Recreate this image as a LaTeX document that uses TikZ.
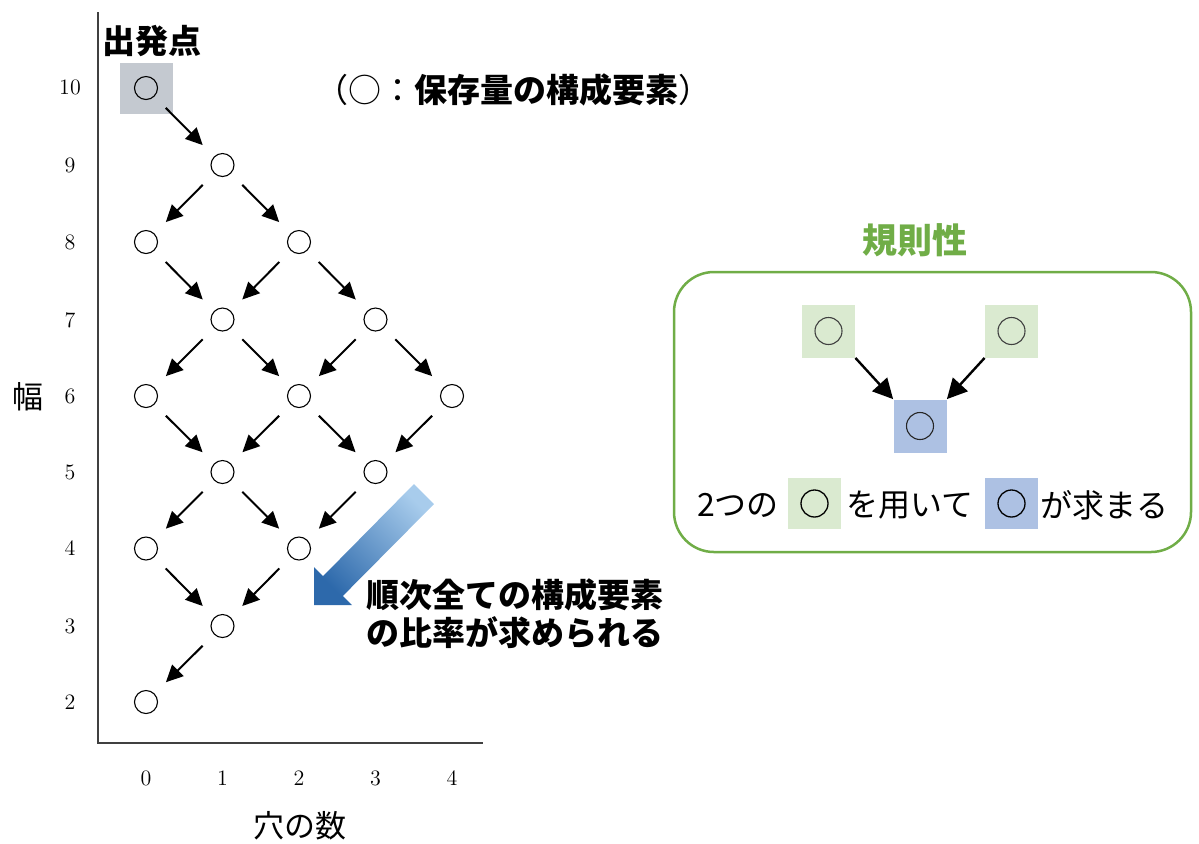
\documentclass[tikz,border=0pt]{standalone}
\usepackage{fontspec}
\newfontfamily\cjk{Noto Sans CJK JP}
\usetikzlibrary{arrows.meta,shadings}
\definecolor{grsq}{HTML}{C4C9D0}
\definecolor{gnsq}{HTML}{DAEAD0}
\definecolor{blsq}{HTML}{ADC1E3}
\definecolor{gline}{HTML}{70AD47}
\definecolor{arrlight}{HTML}{A8CCEC}
\definecolor{arrmid}{HTML}{6AA3DA}
\definecolor{arrdark}{HTML}{2D69AB}
\definecolor{axisc}{HTML}{404040}
\begin{document}
\begin{tikzpicture}[x=0.5pt,y=-0.5pt,
  ring/.style={circle,draw,line width=0.55pt,minimum size=11.5pt,inner sep=0pt},
  bigring/.style={circle,draw=black!75,line width=0.55pt,minimum size=13.5pt,inner sep=0pt},
  txtring/.style={circle,draw=black,line width=0.65pt,minimum size=13.5pt,inner sep=0pt},
  flow/.style={-{Triangle[length=8.5pt,width=8pt]},line width=1pt,shorten >=8pt,shorten <=8pt},
  flowb/.style={-{Triangle[length=10pt,width=10pt]},line width=1.2pt},
  ticklab/.style={font=\fontsize{11}{13}\selectfont,inner sep=0pt},
  jlab/.style={font=\cjk\fontsize{15.5}{18}\selectfont,inner sep=0pt},
  jtxt/.style={font=\cjk\fontsize{16}{19}\selectfont,inner sep=0pt},
  jbold/.style={font=\cjk\bfseries\fontsize{16.5}{19}\selectfont,inner sep=0pt},
  sqbox/.style={minimum width=26.5pt,minimum height=26.5pt,inner sep=0pt}]
\useasboundingbox (0,0) rectangle (1199,843);

% axes
\coordinate (atop) at (98,12);
\coordinate (aorig) at (98,743);
\coordinate (aend) at (483,743);
\draw[axisc,line width=0.75pt] (atop) -- (aorig) -- (aend);

% tick labels
\node[ticklab] (y10) at (70,87) {10};
\node[ticklab] (y9) at (70,165) {9};
\node[ticklab] (y8) at (70,242) {8};
\node[ticklab] (y7) at (70,320) {7};
\node[ticklab] (y6) at (70,396) {6};
\node[ticklab] (y5) at (70,472) {5};
\node[ticklab] (y4) at (70,548) {4};
\node[ticklab] (y3) at (70,626) {3};
\node[ticklab] (y2) at (70,702) {2};
\node[ticklab] (x0) at (146,778) {0};
\node[ticklab] (x1) at (222.5,778) {1};
\node[ticklab] (x2) at (299,778) {2};
\node[ticklab] (x3) at (375.5,778) {3};
\node[ticklab] (x4) at (452,778) {4};
\node[jlab] (ylab) at (28,397) {幅};
\node[jlab] (xlab) at (300,826) {穴の数};

% start
\node[jbold] (starttxt) at (151.5,41) {出発点};
\node[fill=grsq,minimum width=26.5pt,minimum height=25.5pt,inner sep=0pt] (startsq) at (146.5,88.5) {};
\node[jbold] (legend) at (513,90) {{\mdseries （○：}保存量の構成要素{\mdseries ）}};

% grid nodes
\node[ring] (a10) at (146,88) {};
\node[ring] (b9) at (222.5,165) {};
\node[ring] (a8) at (146,242) {};
\node[ring] (c8) at (299,242) {};
\node[ring] (b7) at (222.5,319.5) {};
\node[ring] (d7) at (375.5,319.5) {};
\node[ring] (a6) at (146,396) {};
\node[ring] (c6) at (299,396) {};
\node[ring] (e6) at (452,396) {};
\node[ring] (b5) at (222.5,472) {};
\node[ring] (d5) at (375.5,472) {};
\node[ring] (a4) at (146,548.5) {};
\node[ring] (c4) at (299,548.5) {};
\node[ring] (b3) at (222.5,626) {};
\node[ring] (a2) at (146,702) {};

\draw[flow] (a10) -- (b9);
\draw[flow] (b9) -- (a8);
\draw[flow] (b9) -- (c8);
\draw[flow] (a8) -- (b7);
\draw[flow] (c8) -- (b7);
\draw[flow] (c8) -- (d7);
\draw[flow] (b7) -- (a6);
\draw[flow] (b7) -- (c6);
\draw[flow] (d7) -- (c6);
\draw[flow] (d7) -- (e6);
\draw[flow] (a6) -- (b5);
\draw[flow] (c6) -- (b5);
\draw[flow] (c6) -- (d5);
\draw[flow] (e6) -- (d5);
\draw[flow] (b5) -- (a4);
\draw[flow] (b5) -- (c4);
\draw[flow] (d5) -- (c4);
\draw[flow] (a4) -- (b3);
\draw[flow] (c4) -- (b3);
\draw[flow] (b3) -- (a2);

% big gradient arrow
\shade[top color=arrlight,middle color=arrmid,bottom color=arrdark,shading angle=-45]
  (314,605) -- (314,567) -- (323.1,576.1) -- (414,484) -- (434,504) -- (342.9,595.9) -- (352,605) -- cycle;
\node[jbold,align=left,anchor=west,font=\cjk\bfseries\fontsize{16.5}{19}\selectfont] (result) at (366,614) {順次全ての構成要素\\の比率が求められる};

% rule box
\node[draw=gline,line width=1.25pt,rounded corners=20pt,minimum width=258.5pt,minimum height=140pt,inner sep=0pt] (rulebox) at (932.5,412) {};
\node[jbold,text=gline,font=\cjk\bfseries\fontsize{17.5}{20}\selectfont] (ruletitle) at (915,240) {規則性};
\node[sqbox,fill=gnsq] (ga) at (828.5,331) {};
\node[bigring] (gar) at (828.5,331) {};
\node[sqbox,fill=gnsq] (gb) at (1011.5,331) {};
\node[bigring] (gbr) at (1011.5,331) {};
\node[sqbox,fill=blsq] (bc) at (920,426) {};
\node[bigring,draw=black!85] (bcr) at (920,426) {};
\draw[flowb] (ga.south east) -- (bc.north west);
\draw[flowb] (gb.south west) -- (bc.north east);

\node[jtxt] (t1) at (738,505) {2つの};
\node[sqbox,fill=gnsq,minimum height=25.5pt] (gs) at (814.5,503.5) {};
\node[txtring] (gsr) at (814.5,503.5) {};
\node[jtxt] (t2) at (910,505) {を用いて};
\node[sqbox,fill=blsq,minimum height=25.5pt] (bs) at (1011.5,503.5) {};
\node[txtring] (bsr) at (1011.5,503.5) {};
\node[jtxt] (t3) at (1104.5,505) {が求まる};
\end{tikzpicture}
\end{document}
